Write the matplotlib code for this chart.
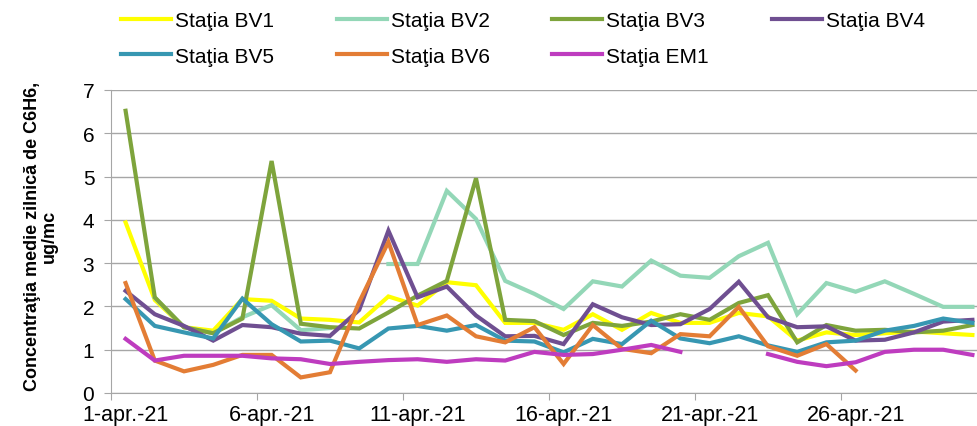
import numpy as np
import matplotlib
matplotlib.use("Agg")
import matplotlib.pyplot as plt

plt.rcParams['font.family'] = ['Liberation Sans', 'DejaVu Sans']

nan = np.nan
days = list(range(1, 31))  # 1..30 aprilie 2021
tick_days = [1, 6, 11, 16, 21, 26]
tick_labels = ['1-apr.-21', '6-apr.-21', '11-apr.-21', '16-apr.-21', '21-apr.-21', '26-apr.-21']

bv1 = [3.94, 2.15, 1.52, 1.44, 2.17, 2.13, 1.72, 1.69, 1.63, 2.23, 2.02, 2.56, 2.49, 1.62, 1.62,
       1.46, 1.82, 1.46, 1.85, 1.62, 1.62, 1.85, 1.77, 1.21, 1.40, 1.34, 1.38, 1.42, 1.38, 1.34]
bv2 = [nan, 2.20, 1.52, 1.38, 1.75, 2.03, 1.45, 1.50, nan, 2.98, 2.98, 4.67, 4.02, 2.59, 2.29,
       1.94, 2.58, 2.46, 3.06, 2.71, 2.66, 3.16, 3.47, 1.82, 2.54, 2.34, 2.58, 2.29, 1.99, 1.99]
bv3 = [6.52, 2.21, 1.52, 1.38, 1.72, 5.36, 1.60, 1.52, 1.49, 1.86, 2.25, 2.59, 4.96, 1.69, 1.66,
       1.34, 1.62, 1.55, 1.65, 1.82, 1.69, 2.08, 2.26, 1.17, 1.57, 1.44, 1.46, 1.40, 1.44, 1.57]
bv4 = [2.36, 1.82, 1.55, 1.21, 1.57, 1.52, 1.37, 1.32, 1.92, 3.75, 2.21, 2.46, 1.79, 1.31, 1.32,
       1.13, 2.05, 1.75, 1.57, 1.59, 1.94, 2.57, 1.75, 1.52, 1.54, 1.21, 1.23, 1.40, 1.65, 1.69]
bv5 = [2.17, 1.55, 1.40, 1.26, 2.18, 1.59, 1.19, 1.21, 1.03, 1.49, 1.55, 1.44, 1.57, 1.21, 1.19,
       0.94, 1.25, 1.13, 1.67, 1.26, 1.15, 1.31, 1.10, 0.95, 1.17, 1.21, 1.44, 1.55, 1.72, 1.62]
bv6 = [2.54, 0.75, 0.50, 0.65, 0.88, 0.88, 0.36, 0.48, 2.10, 3.49, 1.57, 1.79, 1.31, 1.17, 1.52,
       0.67, 1.57, 1.02, 0.92, 1.36, 1.31, 1.99, 1.08, 0.86, 1.13, 0.52, nan, nan, nan, nan]
em1 = [1.25, 0.75, 0.86, 0.86, 0.86, 0.80, 0.78, 0.67, 0.72, 0.76, 0.78, 0.72, 0.78, 0.75, 0.95,
       0.88, 0.90, 1.00, 1.11, 0.95, nan, nan, 0.90, 0.72, 0.62, 0.71, 0.95, 1.00, 1.00, 0.88]

series = [
    ('Staţia BV1', bv1, '#FFFF00'),
    ('Staţia BV2', bv2, '#93D7B7'),
    ('Staţia BV3', bv3, '#7EA43C'),
    ('Staţia BV4', bv4, '#6F4F91'),
    ('Staţia BV5', bv5, '#3797B2'),
    ('Staţia BV6', bv6, '#E37D35'),
    ('Staţia EM1', em1, '#BE3CBF'),
]

fig = plt.figure(figsize=(9.77, 4.27), dpi=100)
ax = fig.add_axes([111 / 977, 33 / 427, 866 / 977, 303 / 427])

lines = {}
for name, vals, col in series:
    ln, = ax.plot(days, vals, color=col, lw=3, label=name, solid_joinstyle='miter')
    lines[name] = ln

ax.set_xlim(0.5, 0.5 + 866 / 29.2)
ax.set_ylim(0, 7)
ax.set_yticks(range(0, 8))
ax.yaxis.grid(True, color='#A6A6A6', lw=1)
ax.set_axisbelow(True)

# ticks la granita zilelor, etichete centrate pe zi
ax.set_xticks([d - 0.5 for d in tick_days])
ax.set_xticklabels([])
ax.set_xticks(tick_days, minor=True)
ax.set_xticklabels(tick_labels, minor=True)
ax.tick_params(axis='x', which='major', length=5, color='#A6A6A6', direction='out')
ax.tick_params(axis='x', which='minor', length=0, pad=8, labelsize=15.5)
ax.tick_params(axis='y', length=5, color='#A6A6A6', pad=7, labelsize=15)

for s in ['top', 'right']:
    ax.spines[s].set_visible(False)
for s in ['left', 'bottom']:
    ax.spines[s].set_color('#A6A6A6')

fig.text(0.042, 0.446, 'Concentraţia medie zilnică de C6H6,\nug/mc', rotation=90,
         ha='center', va='center', multialignment='center', fontsize=13, fontweight='bold',
         linespacing=1.05)

# legenda pe randuri: matplotlib umple pe coloane, deci reordonam
order = ['Staţia BV1', 'Staţia BV5', 'Staţia BV2', 'Staţia BV6', 'Staţia BV3', 'Staţia EM1', 'Staţia BV4']
fig.legend([lines[n] for n in order], order, loc='upper left', ncol=4,
           bbox_to_anchor=(121 / 977, 1 - 12 / 427), frameon=False, fontsize=15,
           borderpad=0, borderaxespad=0, handlelength=2.4, handletextpad=0.2,
           columnspacing=3.0, labelspacing=0.8)

fig.savefig('out.png', dpi=100)
